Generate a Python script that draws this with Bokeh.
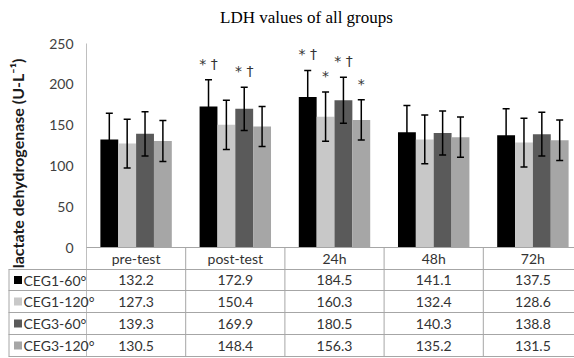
import math
from bokeh.plotting import figure
from bokeh.models import Range1d, ColumnDataSource, Whisker, TeeHead
from bokeh.core.properties import value
from bokeh.embed import file_html
from bokeh.resources import INLINE

# ---------------- data ----------------
title_text = "LDH values of all groups"
categories = ["pre-test", "post-test", "24h", "48h", "72h"]
groups = ["CEG1-60°", "CEG1-120°", "CEG3-60°", "CEG3-120°"]
ceg1_60 = [132.2, 172.9, 184.5, 141.1, 137.5]
ceg1_120 = [127.3, 150.4, 160.3, 132.4, 128.6]
ceg3_60 = [139.3, 169.9, 180.5, 140.3, 138.8]
ceg3_120 = [130.5, 148.4, 156.3, 135.2, 131.5]
sd_ceg1_60 = [32.4, 32.6, 32.4, 32.9, 32.5]
sd_ceg1_120 = [30.0, 30.2, 30.2, 29.9, 29.9]
sd_ceg3_60 = [27.2, 26.6, 28.2, 27.0, 26.8]
sd_ceg3_120 = [25.0, 24.5, 24.7, 24.7, 24.9]
y_ticks = [0, 50, 100, 150, 200, 250]
y_label = "lactate dehydrogenase  (U-L\u207b\u00b9)"
sig_cat = [1, 1, 2, 2, 2, 2]
sig_grp = [0, 2, 0, 1, 2, 3]
sig_mark = ["* \u2020", "* \u2020", "* \u2020", "*", "* \u2020", "*"]

series = [ceg1_60, ceg1_120, ceg3_60, ceg3_120]
sds = [sd_ceg1_60, sd_ceg1_120, sd_ceg3_60, sd_ceg3_120]
colors = ["#000000", "#c8c8c8", "#5a5a5a", "#a6a6a6"]
offsets = [-0.27, -0.09, 0.09, 0.27]
bar_w = 0.18

# ---------------- layout ----------------
W, H = 574, 358
COL_PX = 99.2          # pixels per category column
AXIS_PX = 86           # px of the category start (y axis)
PPU = 0.816            # pixels per y unit
ZERO_PX = 247          # px (from top) of y = 0

def xd(px):
    return (px - AXIS_PX) / COL_PX

def yd(px):
    return (ZERO_PX - px) / PPU

p = figure(width=W, height=H, output_backend="svg", toolbar_location=None,
           x_range=Range1d(xd(0), xd(W)), y_range=Range1d(yd(H), yd(0)),
           min_border=0, min_border_left=0, min_border_right=0,
           min_border_top=0, min_border_bottom=0)
p.xaxis.visible = False
p.yaxis.visible = False
p.xgrid.visible = False
p.ygrid.visible = False
p.outline_line_color = None
p.background_fill_color = "white"

FONT = value("Lato")
grid_col = "#a6a6a6"

# bars
for g in range(4):
    xs = [i + 0.5 + offsets[g] for i in range(len(categories))]
    p.vbar(x=xs, top=series[g], width=bar_w, bottom=0, color=colors[g], line_color=None)

# error bars
for g in range(4):
    xs = [i + 0.5 + offsets[g] for i in range(len(categories))]
    up = [m + s for m, s in zip(series[g], sds[g])]
    lo = [m - s for m, s in zip(series[g], sds[g])]
    src = ColumnDataSource(dict(x=xs, upper=up, lower=lo))
    w = Whisker(source=src, base="x", upper="upper", lower="lower",
                line_color="#000000", line_width=1.5, level="annotation",
                upper_head=TeeHead(size=7, line_width=1.5, line_color="#000000"),
                lower_head=TeeHead(size=7, line_width=1.5, line_color="#000000"))
    p.add_layout(w)

# significance marks
sx = [c + 0.5 + offsets[g] for c, g in zip(sig_cat, sig_grp)]
sy = [series[g][c] + sds[g][c] + 10 for c, g in zip(sig_cat, sig_grp)]
p.text(x=sx, y=sy, text=sig_mark, text_align="center", text_baseline="bottom",
       text_font=value("DejaVu Sans"), text_font_size="14px", text_color="#333333")

# y axis line + table verticals
x_end = xd(W)
bottom_px = 356
p.segment(x0=[0], y0=[250], x1=[0], y1=[yd(bottom_px)], line_color="#bfbfbf", line_width=1)
row_lines = [269, 290, 312, 334, 356]
vx = list(range(1, len(categories)))
p.segment(x0=vx, y0=[0] * len(vx), x1=vx, y1=[yd(bottom_px)] * len(vx), line_color=grid_col, line_width=1)
p.segment(x0=[xd(8.5)], y0=[yd(269)], x1=[xd(8.5)], y1=[yd(bottom_px)], line_color=grid_col, line_width=1)
# horizontals
p.segment(x0=[0], y0=[0], x1=[x_end], y1=[0], line_color=grid_col, line_width=1)
p.segment(x0=[xd(8)] * len(row_lines), y0=[yd(r) for r in row_lines],
          x1=[x_end] * len(row_lines), y1=[yd(r) for r in row_lines],
          line_color=grid_col, line_width=1)

# y tick labels
p.text(x=[xd(73)] * len(y_ticks), y=y_ticks, text=[str(t) for t in y_ticks],
       text_align="right", text_baseline="middle", text_font=FONT,
       text_font_size="14px", text_color="#404040")

# y label
p.text(x=[xd(17)], y=[yd(161)], text=[y_label], angle=math.pi / 2,
       text_align="center", text_baseline="middle", text_font=FONT,
       text_font_size="16px", text_font_style="bold", text_color="#1a1a1a")

# title
p.text(x=[xd(306)], y=[yd(17)], text=[title_text], text_align="center",
       text_baseline="middle", text_font=value("Liberation Serif"),
       text_font_size="17px", text_color="#000000")

# table header
p.text(x=[i + 0.5 for i in range(len(categories))], y=[yd(258)] * len(categories),
       text=categories, text_align="center", text_baseline="middle",
       text_font=FONT, text_font_size="14px", text_color="#333333")

# table rows
row_tops = [269, 290, 312, 334]
row_bots = [290, 312, 334, 356]
for g in range(4):
    cy = yd((row_tops[g] + row_bots[g]) / 2)
    p.scatter(x=[xd(17.5)], y=[cy], marker="square", size=8, color=colors[g], line_color=None)
    p.text(x=[xd(23)], y=[cy], text=[groups[g]], text_align="left", text_baseline="middle",
           text_font=FONT, text_font_size="14px", text_color="#333333")
    p.text(x=[i + 0.5 for i in range(len(categories))], y=[cy] * len(categories),
           text=["%.1f" % v for v in series[g]], text_align="center", text_baseline="middle",
           text_font=FONT, text_font_size="14px", text_color="#333333")

open("out.html", "w").write(file_html(p, INLINE))
